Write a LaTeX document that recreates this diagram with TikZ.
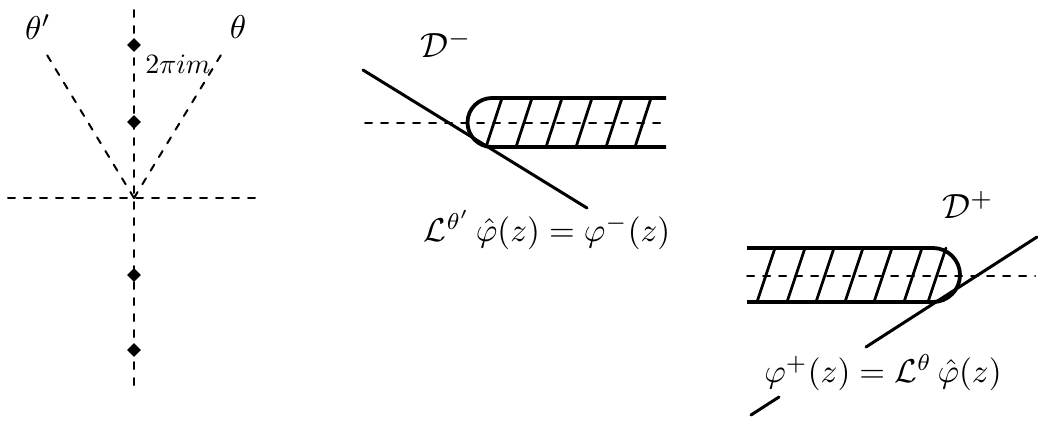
\documentclass[tikz,border=0pt]{standalone}
\usepackage{amsmath}
\usetikzlibrary{shapes.geometric}
\begin{document}
\begin{tikzpicture}[x=1pt,y=-1pt,
  dsh/.style={line width=2pt,dash pattern=on 7pt off 9pt,line cap=round},
  solid line/.style={line width=3pt,line cap=round},
  strip/.style={line width=3.8pt,line join=round},
  hatch/.style={line width=2.8pt,line cap=round},
  pole/.style={diamond,fill=black,minimum size=14pt,inner sep=0pt},
  lab/.style={inner sep=0.5pt,scale=3.5},
  biglab/.style={inner sep=0.5pt,scale=3.3},
  smalllab/.style={inner sep=0.5pt,scale=2.8}]
\useasboundingbox (0,0) rectangle (1038,421);
% ---------- left figure ----------
\coordinate (O) at (134,198);
\coordinate (vtop) at (134,10);
\coordinate (vbot) at (134,388);
\coordinate (hl) at (8,198);
\coordinate (hr) at (262,198);
\coordinate (thp) at (44,50);
\coordinate (th) at (224,50);
\draw[dsh] (vtop) -- (vbot);
\draw[dsh] (hl) -- (hr);
\draw[dsh] (O) -- (thp);
\draw[dsh] (O) -- (th);
\node[pole] (p1) at (134,45) {};
\node[pole] (p2) at (134,122) {};
\node[pole] (p3) at (134,275) {};
\node[pole] (p4) at (134,350) {};
\node[biglab] (lthp) at (38,27) {$\theta'$};
\node[biglab] (lth) at (238,27) {$\theta$};
\node[smalllab] (l2pi) at (178,64) {$2\pi i m$};
% ---------- middle figure ----------
\node[lab] (Dm) at (446,44) {$\mathcal{D}^{-}$};
\coordinate (mdl) at (365,123);
\coordinate (mdr) at (665,123);
\draw[dsh] (mdl) -- (mdr);
\draw[strip] (666,98) -- (492,98) arc[start angle=270,end angle=90,radius=24.5] -- (666,147);
\foreach \x in {494,524,554,584,614,643}
  \draw[hatch] (\x-8,147) -- (\x+8,98);
\coordinate (ma) at (363,70);
\coordinate (mb) at (587,208);
\draw[solid line] (ma) -- (mb);
\node[biglab] (lm) at (547,230) {$\mathcal{L}^{\theta'}\,\hat{\varphi}(z)=\varphi^{-}(z)$};
% ---------- right figure ----------
\node[lab] (Dp) at (968,205) {$\mathcal{D}^{+}$};
\coordinate (rdl) at (747,276);
\coordinate (rdr) at (1035,276);
\draw[dsh] (rdl) -- (rdr);
\draw[strip] (747,248) -- (933,248) arc[start angle=270,end angle=450,radius=27] -- (747,302);
\foreach \x in {766,796,825,854,883,913,937}
  \draw[hatch] (\x-9,302) -- (\x+9,248);
\coordinate (ra) at (1037,237);
\coordinate (rb) at (866,347);
\coordinate (rc) at (779,397);
\coordinate (rd) at (751,415);
\draw[solid line] (ra) -- (rb);
\draw[solid line] (rc) -- (rd);
\node[biglab] (lp) at (883,373) {$\varphi^{+}(z)=\mathcal{L}^{\theta}\,\hat{\varphi}(z)$};
\end{tikzpicture}
\end{document}
